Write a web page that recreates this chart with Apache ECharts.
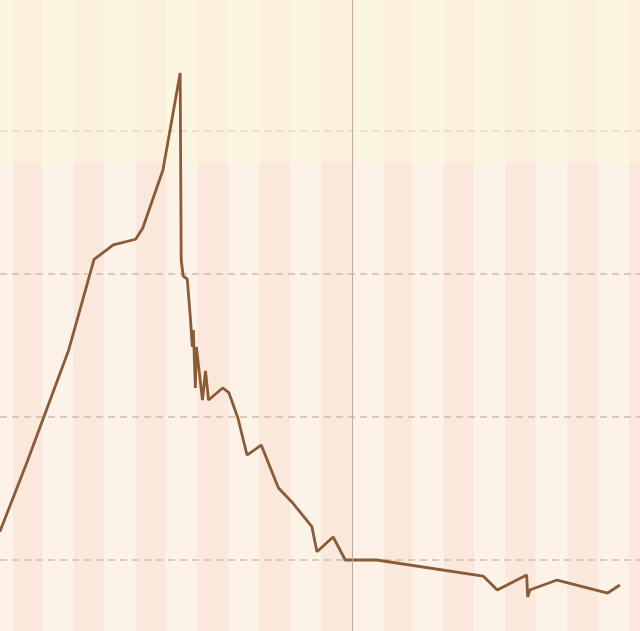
<!DOCTYPE html>
<html>
<head>
<meta charset="utf-8">
<script src="https://cdn.jsdelivr.net/npm/echarts@6/dist/echarts.min.js"></script>
<style>
html, body { margin: 0; padding: 0; background: #fcf2e8; overflow: hidden; }
/* the plot runs a little past the window at top and bottom */
#chart { position: absolute; left: 0; top: -12px; width: 640px; height: 715px; }
</style>
</head>
<body>
<div id="chart"></div>
<script>
// values
var dates = ['2020-01-19', '2020-02-15', '2020-03-27', '2020-04-21', '2020-05-10', '2020-06-01', '2020-06-08', '2020-06-28',
    '2020-07-15', '2020-07-16', '2020-07-18', '2020-07-22', '2020-07-25', '2020-07-27', '2020-07-28', '2020-07-30',
    '2020-07-31', '2020-08-06', '2020-08-09', '2020-08-12', '2020-08-26', '2020-09-01', '2020-09-10', '2020-09-19',
    '2020-10-03', '2020-10-20', '2020-11-02', '2020-11-22', '2020-11-27', '2020-12-13', '2020-12-25', '2021-01-25',
    '2021-05-10', '2021-05-24', '2021-06-22', '2021-06-23', '2021-06-25', '2021-07-22', '2021-09-10', '2021-09-22'];
var values = [11.98, 16.87, 24.69, 31.03, 32.03, 32.43, 33.20, 37.27,
    44.06, 30.98, 29.86, 29.65, 27.01, 24.90, 26.08, 22.03,
    24.90, 21.19, 23.22, 21.19, 22.03, 21.71, 19.93, 17.34,
    18.04, 15.03, 14.08, 12.33, 10.58, 11.61, 10.0, 10.0,
    8.88, 7.90, 8.95, 7.41, 7.90, 8.60, 7.69, 8.25];
var yearMark = '2021-01-01';
var bandFrom = 37.8;

var myChart = echarts.init(document.getElementById('chart'));

var option = {
    animation: false,
    backgroundColor: '#fcf2e8',
    grid: {
        left: 0,
        right: 0,
        top: 0,
        bottom: 0
    },
    xAxis: {
        type: 'time',
        min: '2020-01-19 04:00:00',
        max: '2021-10-11 21:00:00',
        splitNumber: 21,
        maxInterval: 30 * 24 * 3600 * 1000,
        axisLine: { show: false },
        axisTick: { show: false },
        axisLabel: { show: false },
        splitLine: { show: false },
        splitArea: {
            show: true,
            areaStyle: {
                color: ['#fcf2e8', '#fae8dc']
            }
        }
    },
    yAxis: {
        type: 'value',
        z: 1,
        min: 0,
        max: 50,
        interval: 10,
        axisLine: { show: false },
        axisTick: { show: false },
        axisLabel: { show: false },
        splitLine: {
            lineStyle: {
                color: '#cdbcaa',
                width: 1.5,
                type: [7, 5]
            }
        }
    },
    series: [{
        type: 'line',
        data: dates.map(function (d, i) { return [d, values[i]]; }),
        showSymbol: false,
        lineStyle: {
            color: '#8b5a36',
            width: 2.8
        },
        markArea: {
            silent: true,
            itemStyle: {
                color: 'rgba(253,250,215,0.45)'
            },
            data: [[{ yAxis: bandFrom }, { yAxis: 50 }]]
        },
        markLine: {
            silent: true,
            symbol: 'none',
            label: { show: false },
            lineStyle: {
                color: '#c2aa98',
                width: 1,
                type: 'solid'
            },
            data: [{ xAxis: yearMark }]
        }
    }]
};

myChart.setOption(option);
window.addEventListener('resize', function () {
    myChart.resize();
});
</script>
</body>
</html>
